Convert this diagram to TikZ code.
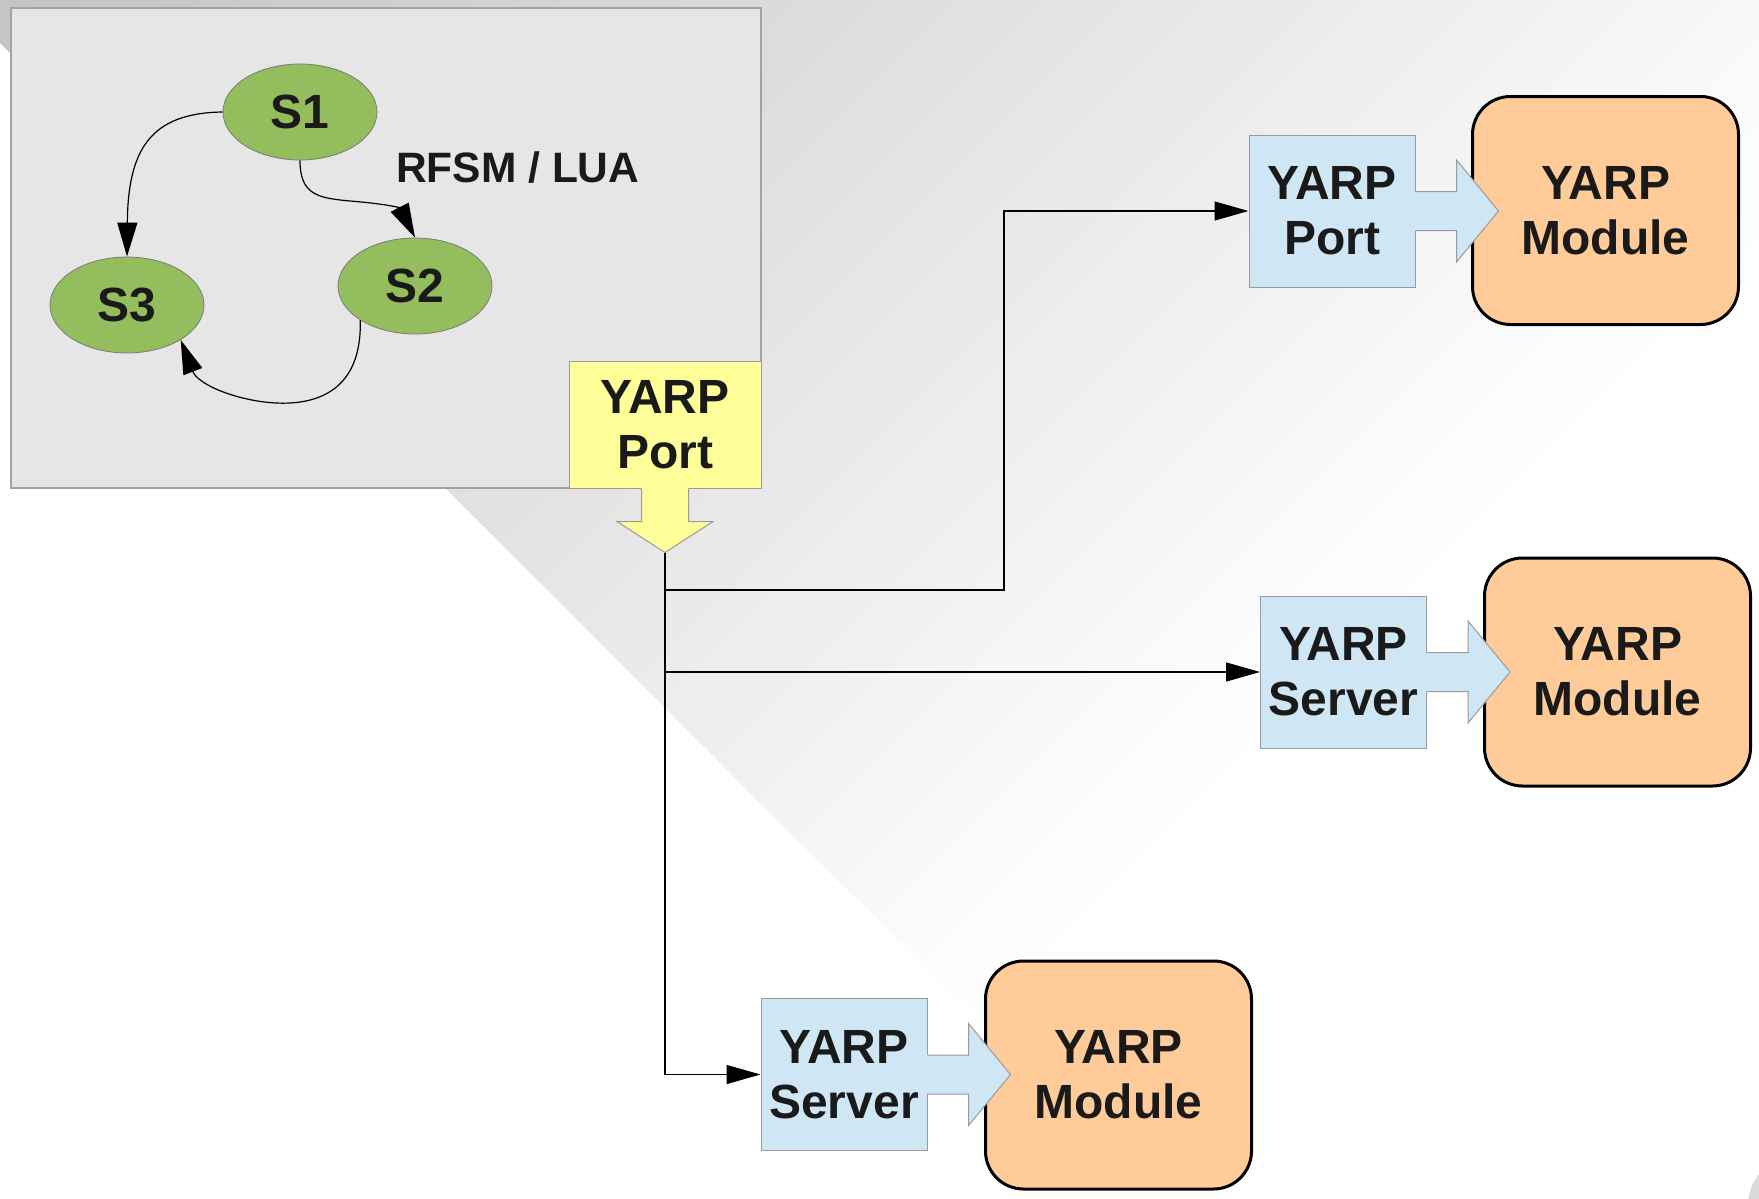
\documentclass[tikz,border=0pt]{standalone}
\usepackage{fontspec}
\setmainfont{Liberation Sans}
\usetikzlibrary{arrows.meta,shapes.geometric,calc}

\definecolor{ink}{HTML}{1A1A1A}
\definecolor{shadowgray}{HTML}{C4C4C4}
\definecolor{panelfill}{HTML}{E6E6E6}
\definecolor{panelline}{HTML}{A3A3A3}
\definecolor{stategreen}{HTML}{94BD5E}
\definecolor{stateline}{HTML}{7A7A7A}
\definecolor{portyellow}{HTML}{FFFF99}
\definecolor{portblue}{HTML}{CFE7F5}
\definecolor{portline}{HTML}{9A9A9A}
\definecolor{modorange}{HTML}{FFCC99}

% arrow-shaped extension on the right side of a port box
\newcommand\portarrowright[1]{%
  \fill[portblue] ($(#1.east)+(-1.5,-19.5)$) -- ($(#1.east)+(41,-19.5)$) -- ($(#1.east)+(41,-51)$)
    -- ($(#1.east)+(83,0)$) -- ($(#1.east)+(41,51)$) -- ($(#1.east)+(41,19.5)$)
    -- ($(#1.east)+(-1.5,19.5)$) -- cycle;
  \draw[portline, line width=1pt] ($(#1.east)+(0,-19.5)$) -- ($(#1.east)+(41,-19.5)$) -- ($(#1.east)+(41,-51)$)
    -- ($(#1.east)+(83,0)$) -- ($(#1.east)+(41,51)$) -- ($(#1.east)+(41,19.5)$)
    -- ($(#1.east)+(0,19.5)$);}

\begin{document}
\begin{tikzpicture}[x=1pt,y=-1pt,
  txt/.style={font=\bfseries\fontsize{48}{55}\selectfont, text=ink},
  state/.style={ellipse, draw=stateline, line width=0.8pt, fill=stategreen,
    minimum width=154pt, minimum height=96pt, inner sep=0pt, txt},
  portbox/.style={rectangle, draw=portline, line width=1pt, minimum width=166pt,
    minimum height=152pt, inner sep=0pt, align=center, txt},
  modbox/.style={rectangle, rounded corners=38pt, draw=black, line width=3pt, fill=modorange,
    minimum width=266pt, minimum height=228pt, inner sep=0pt, align=center, txt},
  fsmarrow/.style={line width=1.2pt, -{Triangle[length=34pt,width=20pt]}},
  conn/.style={line width=1.3pt, -{Triangle[length=34pt,width=19pt]}}]

\useasboundingbox (0,0) rectangle (1759,1199);
\fill[white] (0,0) rectangle (1759,1199);

% diagonal wedge fading from gray to white
\begin{scope}
  \clip (0,0) -- (1759,0) -- (1759,239) -- (977.5,1020.5) -- (0,43) -- cycle;
  \foreach \i in {0,...,49}{
    \pgfmathsetmacro\a{40*\i}
    \pgfmathsetmacro\b{\a+41}
    \pgfmathsetmacro\p{100*(1-(\a+20)/1998)}
    \fill[shadowgray!\p!white] (\a+50,-50) -- (\b+50,-50) -- (\b-1300,1300) -- (\a-1300,1300) -- cycle;
  }
\end{scope}

% state machine panel
\draw[panelline, fill=panelfill, line width=1.5pt] (11,8) rectangle (761,488);

\node[state] (s1) at (300,112) {S1};
\node[state] (s2) at (415,286) {S2};
\node[state] (s3) at (127,305) {S3};
\node[anchor=base west, inner sep=0pt, font=\bfseries\fontsize{42.5}{50}\selectfont, text=ink]
  (rfsm) at (396,182) {RFSM / LUA};

\draw[fsmarrow] (s1.west) .. controls (150,113) and (128,150) .. (s3.north);
\draw[fsmarrow] (s1.south) .. controls (300,195) and (318,198) .. (350,201)
  .. controls (388,204) and (400,208) .. (s2.north);
\draw[fsmarrow] (s2.212) .. controls (362,390) and (318,405) .. (276,403)
  .. controls (238,401) and (198,385) .. (s3.327);

% output port of the state machine
\node[portbox, fill=portyellow, minimum width=192pt, minimum height=127pt] (yp) at (665,424.5) {YARP\\Port};
\coordinate (ypTip) at ($(yp.south)+(0,64)$);
\fill[portyellow] ($(yp.south)+(-23.5,-1.5)$) -- ($(yp.south)+(-23.5,33)$) -- ($(yp.south)+(-48,33)$)
  -- (ypTip) -- ($(yp.south)+(48,33)$) -- ($(yp.south)+(23.5,33)$) -- ($(yp.south)+(23.5,-1.5)$) -- cycle;
\draw[portline, line width=1pt] ($(yp.south)+(-23.5,0)$) -- ($(yp.south)+(-23.5,33)$) -- ($(yp.south)+(-48,33)$)
  -- (ypTip) -- ($(yp.south)+(48,33)$) -- ($(yp.south)+(23.5,33)$) -- ($(yp.south)+(23.5,0)$);

% modules
\node[modbox] (m1) at (1605.5,210.5) {YARP\\Module};
\node[modbox] (m2) at (1617.5,672) {YARP\\Module};
\node[modbox] (m3) at (1118.5,1075) {YARP\\Module};

% ports feeding the modules
\node[portbox, fill=portblue] (p1) at (1332,211) {YARP\\Port};
\portarrowright{p1}
\node[portbox, fill=portblue] (p2) at (1343.5,672) {YARP\\Server};
\portarrowright{p2}
\node[portbox, fill=portblue] (p3) at (844,1074.5) {YARP\\Server};
\portarrowright{p3}

% connections
\coordinate (split1) at (1004,590);
\draw[conn] (ypTip) |- (split1) |- (p1.west);
\draw[conn] (ypTip) |- (p2.west);
\draw[conn] (ypTip) |- (p3.west);

% corner fragment
\fill[gray!30] (1748,1199) -- (1752,1185) -- (1759,1174) -- (1759,1199) -- cycle;
\end{tikzpicture}
\end{document}
